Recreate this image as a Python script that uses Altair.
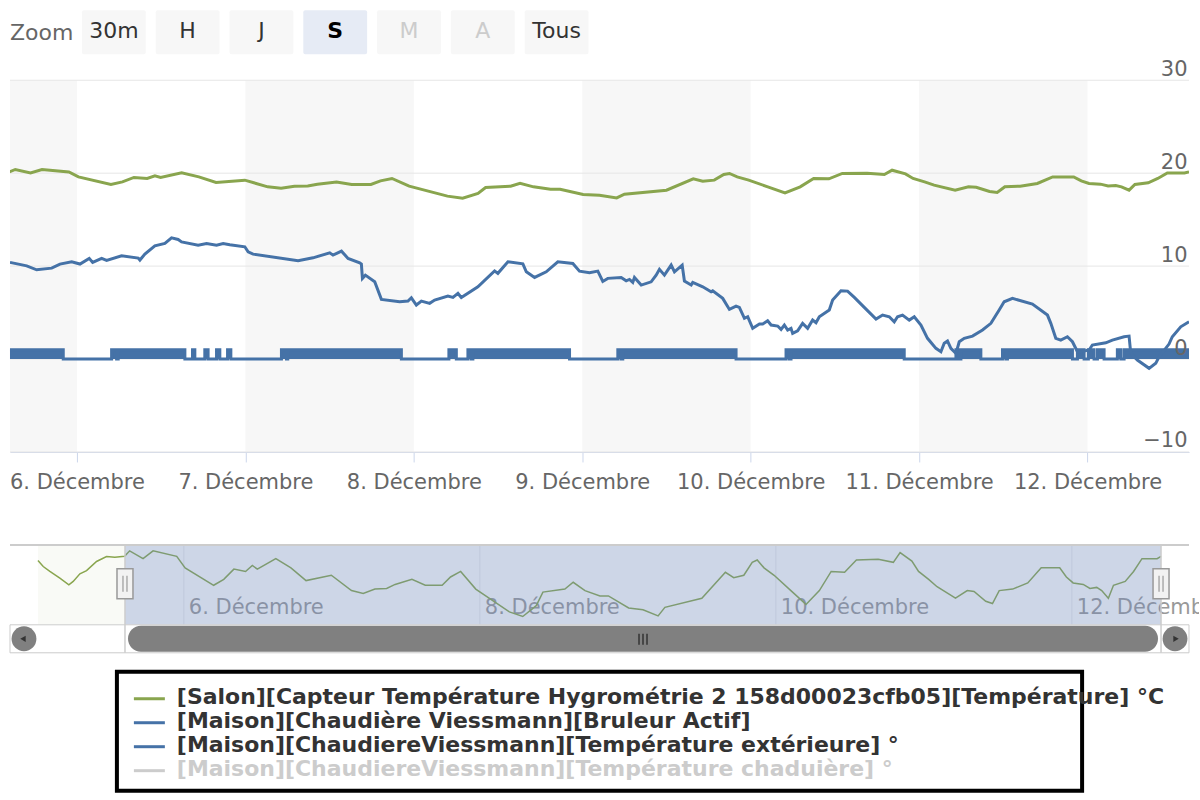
import json
import altair as alt
import pandas as pd

FONT = "DejaVu Sans"
GREEN = "#89A54E"
BLUE = "#4572A7"

# ---------------- data (time = hours relative to 6 Dec 00:00) ----------------
salon_hours = [
    -23.65, -22.80, -21.72, -20.10, -18.64, -17.94, -16.85, -15.77, -14.15, -12.53,
    -11.18, -9.60, -8.78, -6.61, -4.98, -1.15, 0.21, 4.84, 6.48, 8.12,
    10.01, 11.11, 11.92, 14.92, 17.37, 19.82, 23.92, 27.19, 29.09, 30.99,
    32.89, 34.26, 36.99, 39.15, 41.89, 43.25, 44.89, 47.34, 52.79, 54.96,
    57.15, 58.23, 61.79, 63.14, 65.05, 67.48, 68.85, 72.13, 74.46, 76.91,
    78.01, 84.00, 87.82, 89.17, 90.81, 92.17, 92.98, 94.08, 95.72, 98.44,
    100.89, 103.06, 104.97, 107.15, 109.06, 112.60, 115.05, 116.15, 118.06, 119.14,
    120.78, 122.14, 125.13, 127.04, 128.14, 130.04, 131.13, 132.22, 134.40, 136.85,
    139.03, 142.03, 143.11, 144.21, 145.85, 146.93, 148.03, 148.84, 149.92, 150.75,
    152.65, 154.01, 155.37, 157.82, 158.46,
]
salon_temp = [
    19.94, 19.66, 19.43, 19.12, 18.80, 18.96, 19.32, 19.47, 19.90, 20.13,
    20.10, 20.14, 20.40, 20.03, 20.40, 20.14, 19.60, 18.78, 19.06, 19.54,
    19.43, 19.71, 19.54, 20.03, 19.60, 19.00, 19.25, 18.53, 18.39, 18.60,
    18.63, 18.82, 19.06, 18.78, 18.78, 19.17, 19.43, 18.60, 17.53, 17.31,
    17.82, 18.46, 18.60, 18.92, 18.53, 18.28, 18.28, 17.71, 17.63, 17.34,
    17.74, 18.17, 19.39, 19.14, 19.25, 19.86, 19.97, 19.60, 19.25, 18.53,
    17.88, 18.53, 19.43, 19.39, 19.97, 20.00, 19.86, 20.32, 19.92, 19.43,
    19.06, 18.71, 18.17, 18.53, 18.49, 18.03, 17.92, 18.53, 18.60, 18.89,
    19.60, 19.60, 19.17, 18.89, 18.82, 18.63, 18.68, 18.53, 18.17, 18.78,
    18.96, 19.43, 20.03, 20.03, 20.14,
]

ext_hours = [
    -9.54, -7.16, -5.74, -3.60, -2.42, -0.75, 0.43, 1.75, 2.24, 3.52,
    4.23, 6.36, 8.73, 8.97, 9.68, 11.10, 12.53, 13.48, 14.42, 14.91,
    17.27, 18.47, 19.89, 20.83, 21.78, 23.92, 24.39, 25.10, 31.51, 33.64,
    36.02, 36.49, 37.69, 38.63, 40.29, 40.53, 40.68, 41.10, 42.43, 43.38,
    45.99, 47.17, 47.65, 48.36, 49.08, 50.26, 50.97, 52.86, 53.58, 54.29,
    54.77, 57.13, 59.51, 59.98, 61.41, 63.54, 64.03, 65.21, 66.87, 68.52,
    70.66, 71.61, 73.04, 74.22, 74.93, 75.64, 77.55, 78.26, 78.73, 79.20,
    79.44, 80.40, 81.82, 82.53, 83.00, 83.71, 84.67, 85.14, 86.24, 86.56,
    87.52, 87.75, 89.17, 90.36, 90.59, 92.02, 92.97, 93.92, 94.39, 95.11,
    95.58, 96.29, 97.25, 97.71, 98.42, 98.91, 99.85, 100.33, 100.80, 101.27,
    101.75, 101.98, 102.69, 103.40, 104.12, 104.83, 105.31, 105.78, 107.20, 107.68,
    108.87, 109.81, 110.77, 112.19, 113.86, 114.80, 115.75, 116.46, 116.93, 117.64,
    118.60, 119.31, 120.26, 121.20, 122.40, 123.11, 123.58, 124.05, 124.53, 125.25,
    125.72, 126.43, 127.61, 129.04, 130.23, 131.41, 132.12, 133.31, 136.15, 138.29,
    138.77, 139.48, 140.19, 141.13, 141.85, 142.56, 143.04, 144.22, 144.69, 146.60,
    147.54, 149.21, 149.92, 150.16, 151.10, 152.77, 153.72, 154.19, 155.61, 156.08,
    157.28, 158.46,
]
ext_temp = [
    10.40, 10.03, 9.60, 9.78, 10.22, 10.46, 10.22, 10.83, 10.40, 10.83,
    10.61, 11.11, 10.86, 10.65, 11.29, 12.18, 12.44, 13.04, 12.87, 12.61,
    12.26, 12.44, 12.26, 12.44, 12.29, 12.08, 11.54, 11.29, 10.57, 10.89,
    11.43, 11.18, 11.61, 10.83, 10.35, 10.22, 8.68, 9.03, 8.31, 6.42,
    6.16, 6.24, 6.59, 5.81, 6.24, 5.99, 6.34, 6.77, 6.63, 7.06,
    6.63, 7.77, 9.49, 9.22, 10.46, 10.25, 9.39, 8.78, 9.39, 10.46,
    10.29, 9.46, 9.28, 9.46, 8.35, 8.68, 8.78, 8.42, 8.57, 8.25,
    8.78, 7.96, 8.31, 9.03, 9.65, 9.03, 10.11, 9.39, 10.11, 8.39,
    7.96, 8.25, 7.77, 7.24, 7.34, 6.53, 5.34, 5.70, 5.56, 4.38,
    4.55, 3.30, 3.76, 3.76, 4.12, 3.66, 3.55, 3.19, 3.66, 3.12,
    3.30, 2.76, 3.04, 3.84, 3.30, 4.19, 3.90, 4.55, 5.27, 6.34,
    7.34, 7.31, 6.63, 5.56, 4.30, 4.73, 4.55, 4.01, 4.55, 4.73,
    4.19, 4.55, 3.66, 2.23, 1.15, 0.78, 1.69, 1.94, 1.15, 0.61,
    1.86, 2.23, 2.47, 3.12, 3.84, 5.27, 6.16, 6.53, 5.91, 4.73,
    3.84, 2.23, 2.04, 2.40, 1.86, 0.78, 0.78, 0.97, 1.51, 1.75,
    2.04, 2.40, 2.47, 0.61, -0.11, -1.00, -0.46, 0.25, 1.61, 2.40,
    3.47, 4.01,
]

# burner "on" periods (value 1 between start and end, else 0)
burner_on_start = [-12.00, 4.94, 5.88, 16.47, 18.22, 19.89, 21.46, 29.14, 30.04, 53.00,
                   55.71, 56.42, 77.07, 77.78, 101.04, 101.75, 125.25, 125.96, 131.88, 132.59,
                   142.56, 144.12, 145.41, 148.25, 149.21]
burner_on_end = [-1.95, 5.65, 15.38, 16.80, 18.69, 20.36, 21.93, 29.86, 46.23, 54.06,
                 56.19, 70.19, 77.55, 93.92, 101.51, 117.88, 125.62, 128.80, 132.36, 141.85,
                 143.51, 144.93, 146.36, 148.74, 160.00]

band_start = [-24, 24, 72, 120]      # shaded days: 5, 7, 9, 11 December
band_end = [0, 48, 96, 144]
main_ticks = [0, 24, 48, 72, 96, 120, 144]
nav_ticks = [0, 48, 96, 144]
y_ticks = [-10, 0, 10, 20, 30]
view_start, view_end = -9.54, 158.46
data_start = -23.65
nav_y_domain = [16.92, 20.68]

zoom_buttons = ["30m", "H", "J", "S", "M", "A", "Tous"]
zoom_selected = "S"
zoom_disabled = ["M", "A"]

legend_names = [
    "[Salon][Capteur Température Hygrométrie 2 158d00023cfb05][Température] °C",
    "[Maison][Chaudière Viessmann][Bruleur Actif]",
    "[Maison][ChaudiereViessmann][Température extérieure] °",
    "[Maison][ChaudiereViessmann][Température chaduière] °",
]
legend_colors = [GREEN, BLUE, BLUE, "#cccccc"]
legend_visible = ["on", "on", "on", "off"]

# ---------------- tables ----------------
salon_df = pd.DataFrame({"h": salon_hours, "v": salon_temp})
ext_df = pd.DataFrame({"h": ext_hours, "v": ext_temp})
on_df = pd.DataFrame({"s": burner_on_start, "e": burner_on_end})
step_rows = []
for s, e in zip(burner_on_start, burner_on_end):
    step_rows.append({"h": s, "v": 1})
    step_rows.append({"h": e, "v": 0})
burner_df = pd.DataFrame(step_rows)
band_df = pd.DataFrame({"s": band_start, "e": band_end})
grid_df = pd.DataFrame({"v": y_ticks})
one = pd.DataFrame({"k": [0]})

W = 1180

# ---------------- range selector ----------------
state_expr = ("datum.label == '%s' ? 'selected' : (indexof(%s, datum.label) >= 0 ? 'disabled' : 'normal')"
              % (zoom_selected, json.dumps(zoom_disabled)))
btn_base = alt.Chart(pd.DataFrame({"label": zoom_buttons})).transform_calculate(state=state_expr)
bx = alt.X("label:N", sort=zoom_buttons,
           scale=alt.Scale(domain=zoom_buttons, range=[72, 579], paddingInner=0.135, paddingOuter=0),
           axis=None)
btn_rect = btn_base.mark_rect(cornerRadius=2).encode(
    x=bx, y=alt.value(0), y2=alt.value(44),
    color=alt.Color("state:N", scale=alt.Scale(domain=["normal", "selected", "disabled"],
                                               range=["#f7f7f7", "#e6ebf5", "#f7f7f7"]), legend=None))
btn_text = btn_base.transform_filter("datum.state != 'selected'").mark_text(
    font=FONT, fontSize=22, baseline="middle").encode(
    x=bx, y=alt.value(21), text="label:N",
    color=alt.Color("state:N", scale=alt.Scale(domain=["normal", "disabled"],
                                               range=["#333333", "#cccccc"]), legend=None))
btn_sel = btn_base.transform_filter("datum.state == 'selected'").mark_text(
    font=FONT, fontSize=22, fontWeight="bold", baseline="middle", color="#000000").encode(
    x=bx, y=alt.value(21), text="label:N")
zoom_label = alt.Chart(one).mark_text(font=FONT, fontSize=22, align="left", baseline="middle",
                                      color="#666666").encode(
    x=alt.value(0), y=alt.value(23), text=alt.value("Zoom"))
panel_a = alt.layer(btn_rect, btn_text, btn_sel, zoom_label).resolve_scale(
    color="independent").properties(width=W, height=70)

# ---------------- main chart ----------------
xs = alt.Scale(domain=[view_start, view_end], nice=False, zero=False)
ys = alt.Scale(domain=[-10, 30], nice=False, zero=False)
xaxis = alt.Axis(values=main_ticks, labelExpr="(6 + round(datum.value / 24)) + '. Décembre'",
                 orient="bottom", grid=False, domainColor="#ccd6eb", domainWidth=1,
                 tickColor="#ccd6eb", tickSize=10, tickWidth=1, labelColor="#666666",
                 labelFont=FONT, labelFontSize=21, labelPadding=10, labelFlush=False,
                 labelOverlap=False, title=None)
yaxis = alt.Axis(values=y_ticks, orient="right", grid=False, domain=False, ticks=False, tickSize=0,
                 labelAlign="right", labelPadding=-2, labelBaseline="alphabetic", labelOffset=-5,
                 labelColor="#666666", labelFont=FONT, labelFontSize=21, title=None, zindex=1)


def X(f):
    return alt.X(f, type="quantitative", scale=xs, axis=xaxis)


def Y(f):
    return alt.Y(f, type="quantitative", scale=ys, axis=yaxis)


bands = alt.Chart(band_df).mark_rect(color="#f7f7f7", clip=True).encode(
    x=X("s"), x2="e", y=alt.YDatum(30, scale=ys, axis=yaxis), y2=alt.Y2Datum(-10))
grid = alt.Chart(grid_df).mark_rule(color="#e6e6e6", strokeWidth=1).encode(y=Y("v"))
burner_fill = alt.Chart(on_df).mark_rect(color=BLUE, clip=True).encode(
    x=X("s"), x2="e", y=alt.YDatum(1, scale=ys, axis=yaxis), y2=alt.Y2Datum(0))
burner_line = alt.Chart(burner_df).mark_line(color=BLUE, strokeWidth=3, interpolate="step-after",
                                             clip=True).encode(x=X("h"), y=Y("v"))
ext_line = alt.Chart(ext_df).mark_line(color=BLUE, strokeWidth=3, clip=True).encode(
    x=X("h"), y=Y("v"))
salon_line = alt.Chart(salon_df).mark_line(color=GREEN, strokeWidth=3, clip=True).encode(
    x=X("h"), y=Y("v"))
panel_b = alt.layer(bands, grid, burner_fill, burner_line, ext_line, salon_line).properties(
    width=W, height=372)

# ---------------- navigator + scrollbar ----------------
nxs = alt.Scale(domain=[data_start, view_end], range=[28, 1152], nice=False, zero=False)
nys = alt.Scale(domain=nav_y_domain, range=[80, 0], nice=False, zero=False)


def NX(f):
    return alt.X(f, type="quantitative", scale=nxs, axis=None)


span_df = pd.DataFrame({"s": [data_start], "e": [view_end]})
sel_df = pd.DataFrame({"s": [view_start], "e": [view_end]})
edge_df = pd.DataFrame({"h": [view_start, view_end]})
mid_df = pd.DataFrame({"h": [(view_start + view_end) / 2]})

tint = alt.Chart(span_df).mark_rect(color=GREEN, opacity=0.05).encode(
    x=NX("s"), x2="e", y=alt.value(0), y2=alt.value(80))
nav_grid = alt.Chart(pd.DataFrame({"h": nav_ticks})).mark_rule(color="#e6e6e6").encode(
    x=NX("h"), y=alt.value(0), y2=alt.value(80))
nav_labels = alt.Chart(pd.DataFrame({"h": nav_ticks})).transform_calculate(
    lab="(6 + round(datum.h / 24)) + '. Décembre'").mark_text(
    font=FONT, fontSize=21, align="left", baseline="middle", dx=5, color="#999999",
    clip=True).encode(
    x=NX("h"), y=alt.value(63), text="lab:N")
nav_line = alt.Chart(salon_df).mark_line(color=GREEN, strokeWidth=1.5).encode(
    x=NX("h"), y=alt.Y("v:Q", scale=nys, axis=None))
mask = alt.Chart(sel_df).mark_rect(color="#6685c2", opacity=0.3).encode(
    x=NX("s"), x2="e", y=alt.value(0), y2=alt.value(80))
top_line = alt.Chart(one).mark_rule(color="#cccccc", strokeWidth=2).encode(
    x=alt.value(0), x2=alt.value(W), y=alt.value(0))
track = alt.Chart(one).mark_rect(fill="white", stroke="#cccccc", strokeWidth=1).encode(
    x=alt.value(0), x2=alt.value(W), y=alt.value(80), y2=alt.value(108))
edges = alt.Chart(edge_df).mark_rule(color="#cccccc", strokeWidth=1.5).encode(
    x=NX("h"), y=alt.value(0), y2=alt.value(108))
bar = alt.Chart(sel_df).mark_rect(color="#808080", cornerRadius=13, xOffset=3, x2Offset=-3).encode(
    x=NX("s"), x2="e", y=alt.value(81), y2=alt.value(107))
grips = [alt.Chart(mid_df).mark_rule(color="#333333", strokeWidth=1.5, xOffset=o).encode(
    x=NX("h"), y=alt.value(89), y2=alt.value(100)) for o in (-4, 0, 4)]
btn_l = alt.Chart(one).mark_point(shape="circle", filled=True, size=620, color="#808080",
                                  opacity=1).encode(x=alt.value(14), y=alt.value(94))
btn_r = alt.Chart(one).mark_point(shape="circle", filled=True, size=620, color="#808080",
                                  opacity=1).encode(x=alt.value(1166), y=alt.value(94))
arr_l = alt.Chart(one).mark_point(shape="triangle-left", filled=True, size=40, color="#333333",
                                  opacity=1).encode(x=alt.value(13), y=alt.value(94))
arr_r = alt.Chart(one).mark_point(shape="triangle-right", filled=True, size=40, color="#333333",
                                  opacity=1).encode(x=alt.value(1167), y=alt.value(94))
handles = alt.Chart(edge_df).mark_rect(fill="#f2f2f2", stroke="#999999", strokeWidth=1.5,
                                       xOffset=-8, x2Offset=8).encode(
    x=NX("h"), x2="h", y=alt.value(24), y2=alt.value(54))
handle_lines = [alt.Chart(edge_df).mark_rule(color="#999999", strokeWidth=1.2, xOffset=o).encode(
    x=NX("h"), y=alt.value(31), y2=alt.value(47)) for o in (-2, 2)]

# panel a little wider than the plot so the last navigator label runs to the page edge
panel_c = alt.layer(tint, nav_grid, nav_labels, nav_line, mask, top_line, track, edges, bar,
                    *grips, btn_l, btn_r, arr_l, arr_r, handles, *handle_lines).properties(
    width=W + 10, height=108)

# ---------------- legend ----------------
leg_df = pd.DataFrame({"name": legend_names, "vis": legend_visible})
ly = alt.Y("name:N", scale=alt.Scale(type="point", domain=legend_names, range=[25, 97], padding=0),
           axis=None)
box = alt.Chart(one).mark_rect(fill="white", stroke="#000000", strokeWidth=4).encode(
    x=alt.value(107), x2=alt.value(1073), y=alt.value(0), y2=alt.value(119))
symbols = alt.Chart(leg_df).mark_rule(strokeWidth=3, yOffset=2).encode(
    x=alt.value(124), x2=alt.value(155), y=ly,
    color=alt.Color("name:N", scale=alt.Scale(domain=legend_names, range=legend_colors), legend=None))
texts = alt.Chart(leg_df).mark_text(font=FONT, fontSize=22, fontWeight="bold", align="left",
                                    baseline="middle").encode(
    x=alt.value(167), y=ly, text="name:N",
    color=alt.Color("vis:N", scale=alt.Scale(domain=["on", "off"], range=["#333333", "#cccccc"]),
                    legend=None))
panel_d = alt.layer(box, symbols, texts).resolve_scale(color="independent").properties(
    width=W, height=119)


def spacer(h):
    return alt.Chart(one).mark_text(text=" ", opacity=0).encode(
        x=alt.value(W / 2), y=alt.value(h / 2)).properties(width=W, height=h)


chart = alt.vconcat(panel_a, panel_b, spacer(93), panel_c, spacer(19), panel_d,
                    spacing=0, bounds="flush").properties(
    padding={"left": 8, "top": 9, "right": 0, "bottom": 0}, background="white"
).configure(font=FONT).configure_view(stroke="transparent")

chart.save("out.html", embed_options={"renderer": "svg", "actions": False})
